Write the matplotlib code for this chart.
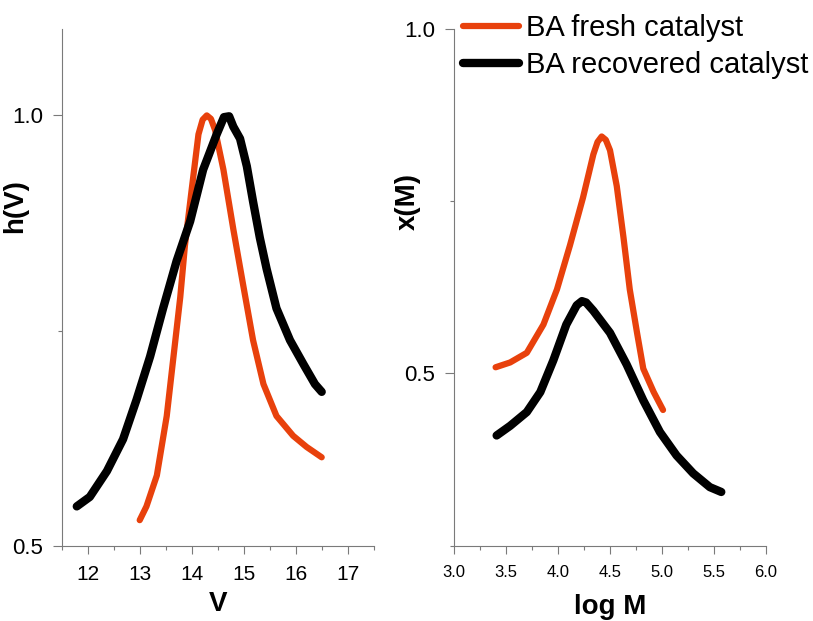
import matplotlib

matplotlib.use("Agg")
import matplotlib.pyplot as plt
from matplotlib.ticker import FixedLocator

# left panel: h(V) vs elution volume V
v_fresh = [13.00, 13.13, 13.33, 13.52, 13.65, 13.78, 13.87, 14.00, 14.13, 14.21, 14.29,
           14.37, 14.45, 14.61, 14.80, 14.99, 15.18, 15.38, 15.63, 15.95, 16.21, 16.50]
h_fresh = [0.530, 0.546, 0.582, 0.651, 0.720, 0.789, 0.849, 0.914, 0.978, 0.995, 1.000,
           0.996, 0.983, 0.937, 0.868, 0.803, 0.739, 0.688, 0.651, 0.628, 0.615, 0.603]

v_recov = [11.79, 12.04, 12.37, 12.68, 12.94, 13.20, 13.45, 13.71, 13.97, 14.22,
           14.48, 14.62, 14.72, 14.80, 14.93, 15.06, 15.18, 15.31, 15.44, 15.63, 15.89,
           16.15, 16.37, 16.50]
h_recov = [0.546, 0.557, 0.587, 0.624, 0.670, 0.720, 0.776, 0.831, 0.877, 0.937,
           0.978, 0.998, 0.999, 0.987, 0.973, 0.941, 0.900, 0.858, 0.822, 0.776, 0.739,
           0.711, 0.688, 0.679]

# right panel: x(M) vs log M
logm_fresh = [3.40, 3.54, 3.70, 3.86, 3.99, 4.115, 4.24, 4.34, 4.38, 4.42, 4.46, 4.50,
              4.565, 4.63, 4.69, 4.76, 4.82, 4.92, 5.01]
x_fresh = [0.509, 0.516, 0.530, 0.571, 0.622, 0.686, 0.755, 0.818, 0.836, 0.844, 0.839, 0.824,
           0.772, 0.697, 0.622, 0.559, 0.507, 0.473, 0.447]

logm_recov = [3.41, 3.54, 3.70, 3.83, 3.955, 4.08, 4.18, 4.23, 4.27, 4.34, 4.50,
              4.66, 4.82, 4.98, 5.14, 5.30, 5.46, 5.57]
x_recov = [0.410, 0.424, 0.444, 0.473, 0.519, 0.571, 0.599, 0.605, 0.603, 0.591, 0.559,
           0.513, 0.461, 0.415, 0.381, 0.355, 0.335, 0.328]

labels = ["BA fresh catalyst", "BA recovered catalyst"]

RED = "#e8410c"
BLACK = "#000000"
SPINE = "#7a7a7a"

plt.rcParams.update(
    {
        "font.family": ["Liberation Sans", "DejaVu Sans"],
        "xtick.direction": "out",
        "ytick.direction": "out",
        "xtick.color": SPINE,
        "ytick.color": SPINE,
        "xtick.labelcolor": "black",
        "ytick.labelcolor": "black",
        "xtick.major.size": 6,
        "ytick.major.size": 6.5,
        "xtick.minor.size": 3,
        "ytick.minor.size": 3,
        "xtick.major.width": 0.8,
        "ytick.major.width": 0.8,
        "xtick.minor.width": 0.8,
        "ytick.minor.width": 0.8,
    }
)

W, H = 813, 621
fig = plt.figure(figsize=(W / 100, H / 100), dpi=100)


def px_axes(x0, x1, y_top, y_bot):
    return fig.add_axes([x0 / W, 1 - y_bot / H, (x1 - x0) / W, (y_bot - y_top) / H])


def style(ax):
    for side in ("top", "right"):
        ax.spines[side].set_visible(False)
    for side in ("left", "bottom"):
        ax.spines[side].set_color(SPINE)
        ax.spines[side].set_linewidth(0.8)


ax1 = px_axes(61.7, 373.7, 29.3, 546)
ax2 = px_axes(454, 766, 29, 545.7)
style(ax1)
style(ax2)

ax1.plot(v_fresh, h_fresh, color=RED, lw=4.5, solid_capstyle="round", solid_joinstyle="round")
ax1.plot(v_recov, h_recov, color=BLACK, lw=6, solid_capstyle="round", solid_joinstyle="round")
ax1.set_xlim(11.5, 17.5)
ax1.set_ylim(0.5, 1.1)
ax1.set_xticks([12, 13, 14, 15, 16, 17])
ax1.xaxis.set_minor_locator(FixedLocator([11.5, 12.5, 13.5, 14.5, 15.5, 16.5, 17.5]))
ax1.set_yticks([0.5, 1.0])
ax1.set_yticklabels(["0.5", "1.0"])
ax1.yaxis.set_minor_locator(FixedLocator([0.75]))
ax1.tick_params(axis="x", which="major", labelsize=15, pad=8)
ax1.tick_params(axis="y", which="major", labelsize=16, pad=7)
ax1.set_xlabel("V", fontsize=20, fontweight="bold", labelpad=5)
ax1.set_ylabel("h(V)", fontsize=20, fontweight="bold")
# label sits above the middle of the axis, left of the tick column
ax1.yaxis.set_label_coords((28 - 61.7) / 312, (546 - 206) / 516.7)

l1, = ax2.plot(logm_fresh, x_fresh, color=RED, lw=4.5, solid_capstyle="round", solid_joinstyle="round")
l2, = ax2.plot(logm_recov, x_recov, color=BLACK, lw=6, solid_capstyle="round", solid_joinstyle="round")
ax2.set_xlim(3.0, 6.0)
ax2.set_ylim(0.25, 1.0)
ax2.set_xticks([3.0, 3.5, 4.0, 4.5, 5.0, 5.5, 6.0])
ax2.set_xticklabels(["3.0", "3.5", "4.0", "4.5", "5.0", "5.5", "6.0"])
ax2.xaxis.set_minor_locator(FixedLocator([3.25, 3.75, 4.25, 4.75, 5.25, 5.75]))
ax2.set_yticks([0.5, 1.0])
ax2.set_yticklabels(["0.5", "1.0"])
ax2.yaxis.set_minor_locator(FixedLocator([0.25, 0.75]))
ax2.tick_params(axis="x", which="major", labelsize=12, pad=8)
ax2.tick_params(axis="y", which="major", labelsize=16, pad=7)
ax2.set_xlabel("log M", fontsize=20, fontweight="bold", labelpad=10)
ax2.set_ylabel("x(M)", fontsize=20, fontweight="bold")
ax2.yaxis.set_label_coords((421 - 454) / 312, (545.7 - 202) / 516.7)

fig.legend(
    [l1, l2],
    labels,
    loc="upper left",
    bbox_to_anchor=(463 / W, 1 - 14 / H),
    frameon=False,
    fontsize=21,
    handlelength=1.92,
    handletextpad=0.24,
    labelspacing=0.32,
    borderpad=0,
    borderaxespad=0,
)

fig.savefig("out.png", dpi=100)
